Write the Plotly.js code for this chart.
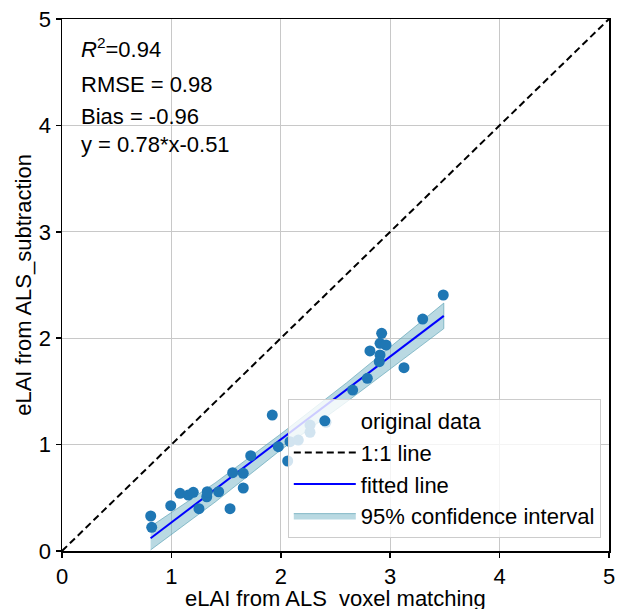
<!DOCTYPE html>
<html>
<head>
<meta charset="utf-8">
<script src="https://cdn.plot.ly/plotly-3.0.1.min.js"></script>
<style>html,body{margin:0;padding:0;background:#fff;}#chart{width:617px;height:609px;}</style>
</head>
<body>
<div id="chart"></div>
<script>
const xData = [0.811,0.820,0.994,1.079,1.154,1.200,1.252,1.323,1.328,1.432,1.536,1.560,1.657,1.657,1.725,1.922,
               1.977,2.063,2.084,2.160,2.267,2.267,2.413,
               2.657,2.791,2.815,2.907,2.900,2.922,2.907,2.962,3.126,3.297,3.485];
const yData = [0.329,0.223,0.426,0.542,0.526,0.552,0.398,0.510,0.557,0.557,0.398,0.736,0.730,0.592,0.896,1.278,
               0.980,0.846,1.027,1.043,1.184,1.116,1.210,
               1.513,1.623,1.880,1.842,1.779,2.046,1.952,1.936,1.723,2.180,2.406];

// 1:1 reference line
const oneX = [0, 5];
const oneY = [0, 5];

// Fitted line (y = 0.78*x - 0.51) endpoints as read
const fitX = [0.81, 3.49];
const fitY = [0.12, 2.21];

// 95% confidence band as read
const bandX = [0.81, 1.4, 2.0, 2.6, 3.49];
const bandUpper = [0.23, 0.64, 1.10, 1.58, 2.33];
const bandLower = [0.01, 0.46, 0.95, 1.40, 2.09];

const statTexts = ['<i>R</i><sup>2</sup>=0.94', 'RMSE = 0.98', 'Bias = -0.96', 'y = 0.78*x-0.51'];
const tickVals = [0, 1, 2, 3, 4, 5];
const xTitle = 'eLAI from ALS_voxel matching';
const yTitle = 'eLAI from ALS_subtraction';

const font = 'Liberation Sans, Arial, sans-serif';

const traces = [
  {x: oneX, y: oneY, mode: 'lines', name: '1:1 line', legendrank: 2,
   line: {color: '#000', width: 2, dash: '7px,4px'}},
  {x: bandX.concat(bandX.slice().reverse()), y: bandUpper.concat(bandLower.slice().reverse()),
   mode: 'lines', fill: 'toself', name: '95% confidence interval', legendrank: 4,
   fillcolor: 'rgba(100,170,190,0.45)', line: {color: 'rgba(80,155,175,0.6)', width: 1}},
  {x: fitX, y: fitY, mode: 'lines', name: 'fitted line', legendrank: 3,
   line: {color: '#0000ff', width: 2}},
  {x: xData, y: yData, mode: 'markers', name: 'original data', legendrank: 1,
   marker: {color: '#1f77b4', size: 11}}
];

const ann = statTexts.map((t, i) => ({
  text: t, xref: 'paper', yref: 'paper', x: 0.031, y: [0.945, 0.876, 0.816, 0.765][i],
  xanchor: 'left', yanchor: 'middle', showarrow: false,
  font: {family: font, size: 22, color: '#000'}
}));
// x-axis title (placed low, as in the reference)
ann.push({
  text: xTitle, xref: 'paper', yref: 'paper', x: 0.5, y: -0.089,
  xanchor: 'center', yanchor: 'middle', showarrow: false,
  font: {family: font, size: 22, color: '#000'}
});

const axisCommon = {
  range: [0, 5], tickvals: tickVals, ticktext: tickVals.map(String),
  showgrid: true, gridcolor: '#c8c8c8', gridwidth: 1.2,
  zeroline: false, showline: true, linecolor: '#000', linewidth: 1.5, mirror: true,
  ticks: 'outside', ticklen: 5, tickwidth: 1.5, tickcolor: '#000',
  tickfont: {family: font, size: 22, color: '#000'}
};

const layout = {
  width: 617, height: 609,
  margin: {l: 62, r: 8, t: 19, b: 58},
  paper_bgcolor: '#fff', plot_bgcolor: '#fff',
  showlegend: true,
  xaxis: Object.assign({}, axisCommon, {ticklabelstandoff: 0}),
  yaxis: Object.assign({}, axisCommon, {
    title: {text: yTitle, font: {family: font, size: 22, color: '#000'}, standoff: 1}
  }),
  legend: {
    x: 0.985, y: 0.0244, xanchor: 'right', yanchor: 'bottom',
    bgcolor: 'rgba(255,255,255,0.8)', bordercolor: '#cccccc', borderwidth: 1,
    font: {family: font, size: 22, color: '#000'}, itemwidth: 62
  },
  annotations: ann
};

Plotly.newPlot('chart', traces, layout, {displayModeBar: false, staticPlot: true});
</script>
</body>
</html>
